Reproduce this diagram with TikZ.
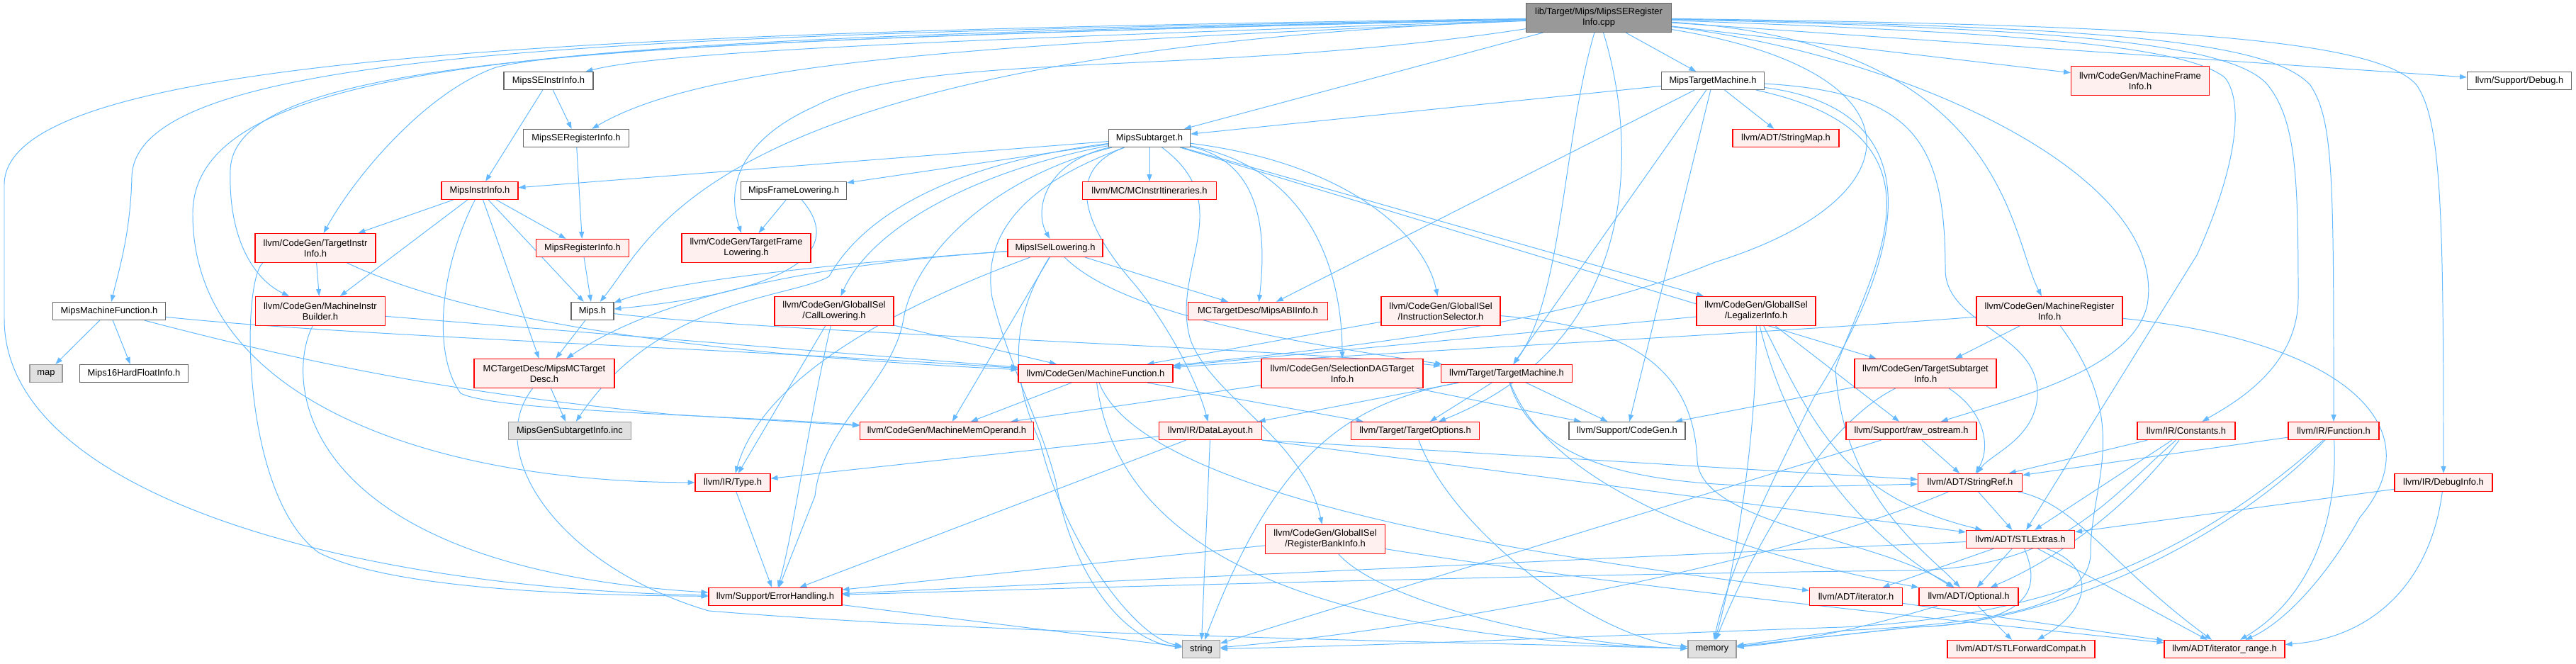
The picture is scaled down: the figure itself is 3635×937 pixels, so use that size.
\documentclass[tikz,border=0pt]{standalone}
\usepackage{fontspec}
\usepackage{xcolor}
\usetikzlibrary{arrows.meta}
\newfontfamily\depfont{Liberation Sans}
\definecolor{edgeblue}{HTML}{63B8FF}
\definecolor{redfill}{HTML}{FFF0F0}
\definecolor{sysfill}{HTML}{E0E0E0}
\definecolor{srcfill}{HTML}{999999}
\definecolor{boxgray}{HTML}{666666}
\definecolor{sysgray}{HTML}{999999}
\pgfdeclarelayer{edges}
\pgfsetlayers{edges,main}

\begin{document}
\begin{tikzpicture}[x=0.025cm, y=-0.025cm,
  filebox/.style={draw, align=center, inner sep=0pt, minimum height=0.625cm, line width=0.9pt,
    font={\depfont\fontsize{9.2}{10.7}\selectfont}},
  twoline/.style={minimum height=1.025cm},
  bw/.style={minimum width=#1*0.025cm},
  redhdr/.style={filebox, draw=red, fill=redfill},
  whitehdr/.style={filebox, draw=boxgray, fill=white},
  grayhdr/.style={filebox, draw=sysgray, fill=sysfill},
  srcfile/.style={filebox, draw=boxgray, fill=srcfill},
  incl/.style={draw=edgeblue, line width=0.7pt, -{Triangle[length=7pt,width=5pt]}}]
\useasboundingbox (0,0) rectangle (3635,937);

% row 0 and 1
\node[srcfile,twoline,bw=205] (main) at (2256,25) {lib/Target/Mips/MipsSERegister\\Info.cpp};
\node[whitehdr,bw=126] (seii) at (774,114) {MipsSEInstrInfo.h};
\node[whitehdr,bw=145] (tm) at (2417,114) {MipsTargetMachine.h};
\node[redhdr,twoline,bw=195] (mfi) at (3020,114) {llvm/CodeGen/MachineFrame\\Info.h};
\node[whitehdr,bw=147] (dbg) at (3555,114) {llvm/Support/Debug.h};
\node[whitehdr,bw=149] (seri) at (813,195) {MipsSERegisterInfo.h};
\node[whitehdr,bw=115] (st) at (1622,195) {MipsSubtarget.h};
\node[redhdr,bw=150] (smap) at (2520,195) {llvm/ADT/StringMap.h};

% rows 2 to 4
\node[redhdr,bw=108] (ii) at (677,269) {MipsInstrInfo.h};
\node[whitehdr,bw=149] (fl) at (1120,269) {MipsFrameLowering.h};
\node[redhdr,bw=189] (itin) at (1622,269) {llvm/MC/MCInstrItineraries.h};
\node[redhdr,twoline,bw=170] (tii) at (445,350) {llvm/CodeGen/TargetInstr\\Info.h};
\node[redhdr,bw=131] (ri) at (822,350) {MipsRegisterInfo.h};
\node[redhdr,twoline,bw=182] (tfl) at (1053,350) {llvm/CodeGen/TargetFrame\\Lowering.h};
\node[redhdr,bw=134] (isel) at (1489,350) {MipsISelLowering.h};
\node[whitehdr,bw=159] (mfn) at (154,439) {MipsMachineFunction.h};
\node[redhdr,twoline,bw=183] (mib) at (452,439) {llvm/CodeGen/MachineInstr\\Builder.h};
\node[whitehdr,bw=60] (mips) at (836,439) {Mips.h};
\node[redhdr,twoline,bw=168] (call) at (1177,439) {llvm/CodeGen/GlobalISel\\/CallLowering.h};
\node[redhdr,bw=197] (abi) at (1775,439) {MCTargetDesc/MipsABIInfo.h};
\node[redhdr,twoline,bw=168] (isel2) at (2033,439) {llvm/CodeGen/GlobalISel\\/InstructionSelector.h};
\node[redhdr,twoline,bw=168] (legal) at (2478,439) {llvm/CodeGen/GlobalISel\\/LegalizerInfo.h};
\node[redhdr,twoline,bw=206] (mri) at (2892,439) {llvm/CodeGen/MachineRegister\\Info.h};

% rows 5 and 6
\node[grayhdr,bw=46] (map) at (65,527) {map};
\node[whitehdr,bw=153] (m16) at (189,527) {Mips16HardFloatInfo.h};
\node[redhdr,twoline,bw=198] (mcdesc) at (768,527) {MCTargetDesc/MipsMCTarget\\Desc.h};
\node[redhdr,bw=218] (mf) at (1546,527) {llvm/CodeGen/MachineFunction.h};
\node[redhdr,twoline,bw=228] (sdag) at (1894,527) {llvm/CodeGen/SelectionDAGTarget\\Info.h};
\node[redhdr,bw=185] (ltm) at (2126,527) {llvm/Target/TargetMachine.h};
\node[redhdr,twoline,bw=200] (tsi) at (2717,527) {llvm/CodeGen/TargetSubtarget\\Info.h};
\node[grayhdr,bw=173] (gensub) at (804,608) {MipsGenSubtargetInfo.inc};
\node[redhdr,bw=245] (mmo) at (1336,608) {llvm/CodeGen/MachineMemOperand.h};
\node[redhdr,bw=145] (dl) at (1708,608) {llvm/IR/DataLayout.h};
\node[redhdr,bw=181] (topt) at (1997,608) {llvm/Target/TargetOptions.h};
\node[whitehdr,bw=164] (cg) at (2296,608) {llvm/Support/CodeGen.h};
\node[redhdr,bw=184] (ros) at (2697,608) {llvm/Support/raw\_ostream.h};
\node[redhdr,bw=138] (consts) at (3085,608) {llvm/IR/Constants.h};
\node[redhdr,bw=128] (func) at (3293,608) {llvm/IR/Function.h};

% rows 7 to 10
\node[redhdr,bw=106] (type) at (1034,681) {llvm/IR/Type.h};
\node[redhdr,bw=147] (sref) at (2780,681) {llvm/ADT/StringRef.h};
\node[redhdr,bw=138] (dinfo) at (3448,681) {llvm/IR/DebugInfo.h};
\node[redhdr,twoline,bw=169] (rbi) at (1870,761) {llvm/CodeGen/GlobalISel\\/RegisterBankInfo.h};
\node[redhdr,bw=153] (stlx) at (2851,761) {llvm/ADT/STLExtras.h};
\node[redhdr,bw=188] (eh) at (1094,842) {llvm/Support/ErrorHandling.h};
\node[redhdr,bw=131] (iter) at (2619,842) {llvm/ADT/iterator.h};
\node[redhdr,bw=140] (opt) at (2778,842) {llvm/ADT/Optional.h};
\node[grayhdr,bw=53] (str) at (1695,916) {string};
\node[grayhdr,bw=68] (mem) at (2416,916) {memory};
\node[redhdr,bw=208] (stlfc) at (2852,916) {llvm/ADT/STLForwardCompat.h};
\node[redhdr,bw=170] (itr) at (3139,916) {llvm/ADT/iterator\_range.h};

\begin{pgfonlayer}{edges}
% includes of the source file
\draw[incl] (main) .. controls (1400,55) and (950,70) .. (seii);
\draw[incl] (main) .. controls (1400,62) and (1000,85) .. (seri);
\draw[incl] (main) .. controls (1000,75) and (925,330) .. (mips);
\draw[incl] (main) .. controls (1200,50) and (800,70) .. (700,95) .. controls (600,130) and (500,250) .. (tii);
\draw[incl] (main) .. controls (900,58) and (330,75) .. (325,240) .. controls (322,340) and (360,395) .. (mib);
\draw[incl] (main) .. controls (900,55) and (275,65) .. (272,300) .. controls (270,560) and (600,680) .. (type);
\draw[incl] (main) .. controls (900,50) and (190,65) .. (186,250) .. controls (184,330) and (168,380) .. (mfn);
\draw[incl] (main) .. controls (800,45) and (8,80) .. (6,260) -- (6,450) .. controls (6,700) and (500,830) .. (eh);
\draw[incl] (main) .. controls (1700,110) and (1300,70) .. (1150,150) .. controls (1060,190) and (1020,250) .. (tfl);
\draw[incl] (main) -- (st);
\draw[incl] (main) -- (tm);
\draw[incl] (main) .. controls (2205,200) and (2205,420) .. (ltm);
\draw[incl] (main) .. controls (2310,200) and (2320,480) .. (topt);
\draw[incl] (main) -- (mfi);
\draw[incl] (main) -- (dbg);
\draw[incl] (main) .. controls (2830,60) and (2835,330) .. (mri);
\draw[incl] (main) .. controls (2720,100) and (2710,280) .. (2420,370) .. controls (2200,460) and (1900,490) .. (mf);
\draw[incl] (main) .. controls (2700,80) and (3060,250) .. (3030,430) .. controls (3010,520) and (2850,560) .. (ros);
\draw[incl] (main) .. controls (2800,45) and (3080,60) .. (3140,110) .. controls (3170,150) and (3150,250) .. (3100,360) -- (stlx);
\draw[incl] (main) .. controls (2900,40) and (3150,60) .. (3200,120) .. controls (3240,170) and (3243,250) .. (3243,420) .. controls (3243,520) and (3150,570) .. (consts);
\draw[incl] (main) .. controls (2950,38) and (3200,55) .. (3260,120) .. controls (3293,170) and (3293,250) .. (func);
\draw[incl] (main) .. controls (3000,35) and (3350,50) .. (3410,120) .. controls (3445,170) and (3448,300) .. (dinfo);

% Mips target headers
\draw[incl] (seii) -- (ii);
\draw[incl] (seii) -- (seri);
\draw[incl] (seri) -- (ri);
\draw[incl] (ri) -- (mips);
\draw[incl] (tm) -- (st);
\draw[incl] (tm) -- (abi);
\draw[incl] (tm) -- (smap);
\draw[incl] (tm) -- (cg);
\draw[incl] (tm) -- (ltm);
\draw[incl] (tm) .. controls (2770,190) and (2640,380) .. (2590,520) .. controls (2600,700) and (2720,780) .. (opt);
\draw[incl] (tm) .. controls (2700,130) and (2745,200) .. (2745,380) .. controls (2745,460) and (2880,470) .. (2875,560) .. controls (2870,620) and (2810,640) .. (sref);
\draw[incl] (tm) .. controls (2770,160) and (2650,420) .. (2560,560) .. controls (2500,680) and (2440,800) .. (mem);

\draw[incl] (st) -- (ii);
\draw[incl] (st) -- (fl);
\draw[incl] (st) -- (itin);
\draw[incl] (st) .. controls (1470,230) and (1460,300) .. (isel);
\draw[incl] (st) .. controls (1790,230) and (1785,350) .. (abi);
\draw[incl] (st) .. controls (1380,240) and (1230,320) .. (call);
\draw[incl] (st) .. controls (1900,230) and (2010,330) .. (isel2);
\draw[incl] (st) -- (legal);
\draw[incl] (st) .. controls (1750,290) and (1650,380) .. (1680,480) .. controls (1710,560) and (1840,620) .. (rbi);
\draw[incl] (st) .. controls (1860,240) and (1894,400) .. (sdag);
\draw[incl] (st) -- (tsi);
\draw[incl] (st) .. controls (1500,240) and (1530,320) .. (1600,400) .. controls (1650,460) and (1690,540) .. (dl);
\draw[incl] (st) .. controls (1400,250) and (1290,360) .. (1275,450) .. controls (1260,540) and (1160,600) .. (1150,700) -- (eh);
\draw[incl] (st) .. controls (1500,240) and (1380,300) .. (1400,420) .. controls (1425,520) and (1470,600) .. (1490,680) .. controls (1510,800) and (1580,905) .. (str);
\draw[incl] (st) .. controls (1350,230) and (1220,300) .. (1170,390) .. controls (1120,420) and (930,420) .. (gensub);

\draw[incl] (ii) -- (tii);
\draw[incl] (ii) -- (ri);
\draw[incl] (ii) -- (mips);
\draw[incl] (ii) -- (mib);
\draw[incl] (ii) -- (mcdesc);
\draw[incl] (ii) .. controls (620,380) and (610,500) .. (650,555) .. controls (700,580) and (1000,585) .. (mmo);

\draw[incl] (fl) -- (tfl);
\draw[incl] (fl) .. controls (1190,350) and (1130,410) .. (mips);

\draw[incl] (isel) -- (abi);
\draw[incl] (isel) .. controls (1200,370) and (950,405) .. (mcdesc);
\draw[incl] (isel) .. controls (1200,370) and (950,395) .. (mips);
\draw[incl] (isel) -- (mmo);
\draw[incl] (isel) .. controls (1300,420) and (1080,520) .. (type);
\draw[incl] (isel) .. controls (1580,440) and (1800,480) .. (ltm);
\draw[incl] (isel) .. controls (1420,460) and (1430,540) .. (1468,625) .. controls (1500,760) and (1600,900) .. (str);

\draw[incl] (mips) -- (mcdesc);
\draw[incl] (mips) .. controls (1100,470) and (1800,490) .. (ltm);
\draw[incl] (mcdesc) -- (gensub);
\draw[incl] (mcdesc) .. controls (680,640) and (790,800) .. (1000,862) .. controls (1400,895) and (2000,905) .. (mem);

\draw[incl] (mfn) -- (map);
\draw[incl] (mfn) -- (m16);
\draw[incl] (mfn) .. controls (500,530) and (700,560) .. (950,585) -- (mmo);
\draw[incl] (mfn) .. controls (500,475) and (1000,490) .. (mf);

% LLVM headers
\draw[incl] (tii) -- (mib);
\draw[incl] (tii) .. controls (700,470) and (1100,505) .. (mf);
\draw[incl] ([xshift=8pt]tii.south west) .. controls (340,400) and (340,700) .. (450,780) .. controls (550,830) and (800,840) .. (eh);
\draw[incl] (mib) .. controls (400,540) and (420,800) .. (eh);
\draw[incl] (mib) -- (mf);

\draw[incl] (call) -- (type);
\draw[incl] (call) .. controls (1140,600) and (1120,750) .. (eh);
\draw[incl] (call) -- (mf);

\draw[incl] (isel2) -- (mf);
\draw[incl] (isel2) .. controls (2300,460) and (2390,520) .. (2395,650) .. controls (2400,740) and (2650,760) .. (opt);
\draw[incl] (legal) -- (mf);
\draw[incl] (legal) .. controls (2480,600) and (2450,800) .. (mem);
\draw[incl] (legal) -- (ros);
\draw[incl] (legal) .. controls (2560,600) and (2600,700) .. (stlx);
\draw[incl] (legal) .. controls (2530,650) and (2640,760) .. (opt);

\draw[incl] (mri) .. controls (2500,470) and (1900,500) .. (mf);
\draw[incl] (mri) -- (tsi);
\draw[incl] (mri) .. controls (3300,480) and (3440,600) .. (3330,730) .. controls (3280,820) and (3220,880) .. (itr);
\draw[incl] (mri) .. controls (3010,600) and (2950,680) .. (2950,780) .. controls (2950,860) and (2800,880) .. (2600,890) -- (mem);

\draw[incl] (tsi) -- (cg);
\draw[incl] (tsi) .. controls (2800,580) and (2810,630) .. (sref);
\draw[incl] (tsi) .. controls (2570,600) and (2470,780) .. (mem);

\draw[incl] (mf) -- (mmo);
\draw[incl] (mf) -- (topt);
\draw[incl] (mf) .. controls (1620,720) and (2300,800) .. (iter);
\draw[incl] (mf) .. controls (1580,800) and (1900,900) .. (mem);

\draw[incl] (sdag) -- (mmo);
\draw[incl] (sdag) -- (cg);

\draw[incl] (ltm) -- (dl);
\draw[incl] (ltm) -- (topt);
\draw[incl] (ltm) -- (cg);
\draw[incl] (ltm) .. controls (2180,700) and (2450,690) .. (sref);
\draw[incl] (ltm) .. controls (1900,570) and (1800,640) .. (str);
\draw[incl] (ltm) .. controls (2200,720) and (2550,800) .. (opt);
\draw[incl] (topt) .. controls (2050,750) and (2250,900) .. (mem);

\draw[incl] (dl) -- (type);
\draw[incl] (dl) -- (eh);
\draw[incl] (dl) -- (str);
\draw[incl] (dl.south east) -- (stlx);
\draw[incl] (dl.south east) -- (sref);

\draw[incl] (type) -- (eh);
\draw[incl] (eh) -- (str);

\draw[incl] (ros) -- (sref);
\draw[incl] (ros) -- (str);

\draw[incl] (consts) -- (sref);
\draw[incl] (consts) -- (stlx);
\draw[incl] (consts) .. controls (3000,720) and (2900,790) .. (opt);
\draw[incl] (consts) .. controls (2960,720) and (2900,800) .. (2700,805) .. controls (2200,810) and (1500,830) .. (eh);

\draw[incl] (func) -- (sref);
\draw[incl] (func) .. controls (3300,750) and (3250,850) .. (itr);
\draw[incl] (func) .. controls (3150,760) and (2900,880) .. (2700,885) -- (mem);
\draw[incl] (func) .. controls (3100,780) and (2900,870) .. (2600,885) .. controls (2300,895) and (2000,910) .. (str);

\draw[incl] (dinfo) -- (stlx);
\draw[incl] (dinfo) .. controls (3430,820) and (3350,900) .. (itr);

\draw[incl] (sref) -- (stlx);
\draw[incl] (sref) .. controls (2930,710) and (2980,800) .. (itr);
\draw[incl] (sref) .. controls (2500,800) and (2000,890) .. (str);

\draw[incl] (rbi) -- (eh);
\draw[incl] (rbi) .. controls (2300,830) and (2800,880) .. (itr);
\draw[incl] (rbi) .. controls (1950,850) and (2200,910) .. (mem);

\draw[incl] (stlx) -- (iter);
\draw[incl] (stlx) -- (opt);
\draw[incl] (stlx) .. controls (2960,800) and (2950,860) .. (stlfc);
\draw[incl] (stlx) -- (itr);
\draw[incl] (stlx) -- (eh);
\draw[incl] (stlx) .. controls (2880,830) and (2870,880) .. (2700,885) -- (mem);

\draw[incl] (opt) -- (stlfc);
\draw[incl] (opt) .. controls (2650,880) and (2550,905) .. (mem);
\draw[incl] (iter) -- (itr);
\end{pgfonlayer}
\end{tikzpicture}
\end{document}
